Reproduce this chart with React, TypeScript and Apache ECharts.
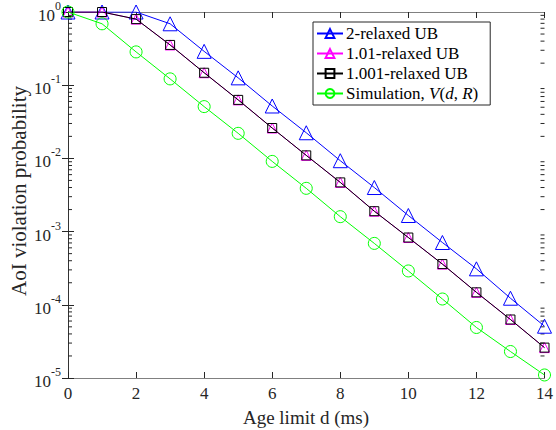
import React, { useEffect, useRef } from "react";
import * as echarts from "echarts";

const ageLimits = [0, 1, 2, 3, 4, 5, 6, 7, 8, 9, 10, 11, 12, 13, 14];
const ub2 = [1, 1, 1, 0.69, 0.29, 0.126, 0.052, 0.0224, 0.0093, 0.004, 0.00166, 0.00071, 0.00031, 0.000123, 0.000051];
const ub101 = [1, 1, 0.8, 0.355, 0.148, 0.063, 0.026, 0.011, 0.0047, 0.0019, 0.00083, 0.00036, 0.000148, 0.000063, 0.000026];
const ub1001 = [1, 1, 0.8, 0.355, 0.148, 0.063, 0.026, 0.011, 0.0047, 0.0019, 0.00083, 0.00036, 0.000148, 0.000063, 0.000026];
const simulation = [1, 0.69, 0.285, 0.122, 0.051, 0.022, 0.0091, 0.0039, 0.0016, 0.00069, 0.00029, 0.00012, 0.000049, 0.000023, 0.000011];
const seriesNames = ["2-relaxed UB", "1.01-relaxed UB", "1.001-relaxed UB", "Simulation, V(d,R)"];
const xTicks = [0, 2, 4, 6, 8, 10, 12, 14];
const decades = [-5, -4, -3, -2, -1];
const minorMultipliers = [2, 3, 4, 5, 6, 7, 8, 9];

const FONT = "'Liberation Serif', 'DejaVu Serif', serif";

export default function App() {
  const ref = useRef<HTMLDivElement>(null);
  useEffect(() => {
    if (!ref.current) return;
    const chart = echarts.init(ref.current, undefined, { renderer: "svg" });
    const pair = (arr: number[]) => ageLimits.map((x, i) => [x, arr[i]]);
    const minorData: number[][] = [];
    decades.forEach((d) => minorMultipliers.forEach((m) => minorData.push([0, m * Math.pow(10, d)])));
    const axisGray = "#808080";
    const labelColor = "#262626";
    chart.setOption({
      animation: false,
      backgroundColor: "#fff",
      textStyle: { fontFamily: FONT },
      grid: { left: 68, right: 11, top: 11, bottom: 52, containLabel: false },
      legend: {
        data: seriesNames,
        orient: "vertical",
        left: 313,
        top: 22,
        padding: [3, 12, 3, 3],
        itemGap: 3,
        itemWidth: 26,
        itemHeight: 11,
        borderColor: "#262626",
        borderWidth: 1,
        borderRadius: 0,
        backgroundColor: "#fff",
        textStyle: {
          fontFamily: FONT,
          fontSize: 17,
          color: "#000",
          padding: [0, 0, 0, -2],
          rich: {
            n: { fontFamily: FONT, fontSize: 17, color: "#000" },
            i: { fontFamily: FONT, fontSize: 17, color: "#000", fontStyle: "italic" },
          },
        },
        formatter: (name: string) =>
          name.startsWith("Simulation")
            ? "{n|Simulation, }{i|V}{n|(}{i|d}{n|, }{i|R}{n|)}"
            : name,
      },
      xAxis: [
        {
          type: "value",
          min: 0,
          max: 14,
          interval: 2,
          axisLine: { lineStyle: { color: axisGray, width: 1 } },
          axisTick: { inside: true, length: 6, lineStyle: { color: labelColor } },
          axisLabel: { color: labelColor, fontSize: 17, fontFamily: FONT, margin: 7,
            formatter: (v: number) => (xTicks.includes(v) ? String(v) : "") },
          splitLine: { show: false },
        },
        {
          type: "value",
          position: "top",
          min: 0,
          max: 14,
          interval: 2,
          axisLine: { show: true, lineStyle: { color: axisGray, width: 1 } },
          axisTick: { inside: true, length: 6, lineStyle: { color: labelColor } },
          axisLabel: { show: false },
          splitLine: { show: false },
        },
      ],
      yAxis: [
        {
          type: "log",
          logBase: 10,
          min: 1e-5,
          max: 1,
          axisLine: { show: true, lineStyle: { color: axisGray, width: 1 } },
          axisTick: { inside: true, length: 6, lineStyle: { color: labelColor } },
          splitLine: { show: false },
          axisLabel: {
            color: labelColor,
            margin: 7,
            formatter: (v: number) => `{b|10}{s|${Math.round(Math.log10(v))}}`,
            rich: {
              b: { fontFamily: FONT, fontSize: 17, color: labelColor, lineHeight: 24, verticalAlign: "bottom" },
              s: { fontFamily: FONT, fontSize: 12, color: labelColor, lineHeight: 24, verticalAlign: "top" },
            },
          },
        },
        {
          type: "log",
          logBase: 10,
          min: 1e-5,
          max: 1,
          position: "right",
          axisLine: { show: true, lineStyle: { color: "#333", width: 1 } },
          axisTick: { inside: true, length: 6, lineStyle: { color: labelColor } },
          axisLabel: { show: false },
          splitLine: { show: false },
        },
      ],
      graphic: [
        {
          type: "text",
          x: 306,
          y: 417,
          style: { text: "Age limit d (ms)", font: `19px ${FONT}`, fill: labelColor, align: "center", verticalAlign: "middle" },
        },
        {
          type: "text",
          x: 19,
          y: 191,
          rotation: Math.PI / 2,
          style: { text: "AoI violation probability", font: `21px ${FONT}`, fill: labelColor, align: "center", verticalAlign: "middle" },
        },
      ],
      series: [
        {
          type: "custom",
          silent: true,
          xAxisIndex: 0,
          yAxisIndex: 0,
          data: minorData,
          clip: false,
          z: 1,
          renderItem: (params: any, api: any) => {
            const v = api.value(1);
            const l = api.coord([0, v]);
            const r = api.coord([14, v]);
            const st = { stroke: labelColor, lineWidth: 1 };
            return {
              type: "group",
              children: [
                { type: "line", shape: { x1: l[0], y1: l[1], x2: l[0] + 4, y2: l[1] }, style: st },
                { type: "line", shape: { x1: r[0], y1: r[1], x2: r[0] - 4, y2: r[1] }, style: st },
              ],
            };
          },
        },
        {
          name: seriesNames[0],
          type: "line",
          data: pair(ub2),
          symbol: "triangle",
          symbolSize: 14,
          lineStyle: { color: "#0000ff", width: 1 },
          itemStyle: { color: "rgba(0,0,0,0)", borderColor: "#0000ff", borderWidth: 1 },
          z: 3,
        },
        {
          name: seriesNames[1],
          type: "line",
          data: pair(ub101),
          symbol: "triangle",
          symbolSize: 10,
          lineStyle: { color: "#ff00ff", width: 1 },
          itemStyle: { color: "rgba(0,0,0,0)", borderColor: "#ff00ff", borderWidth: 1 },
          z: 4,
        },
        {
          name: seriesNames[2],
          type: "line",
          data: pair(ub1001),
          symbol: "rect",
          symbolSize: 9,
          lineStyle: { color: "#000000", width: 1 },
          itemStyle: { color: "rgba(0,0,0,0)", borderColor: "#000000", borderWidth: 1 },
          z: 5,
        },
        {
          name: seriesNames[3],
          type: "line",
          data: pair(simulation),
          symbol: "circle",
          symbolSize: 12,
          lineStyle: { color: "#00ff00", width: 1 },
          itemStyle: { color: "rgba(0,0,0,0)", borderColor: "#00ff00", borderWidth: 1 },
          z: 6,
        },
      ],
    });
    return () => chart.dispose();
  }, []);
  return <div ref={ref} style={{ position: "fixed", left: 0, top: 0, width: 556, height: 430 }} />;
}
